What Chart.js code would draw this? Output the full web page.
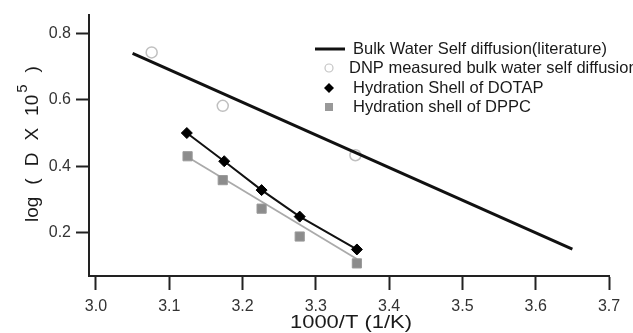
<!DOCTYPE html>
<html>
<head>
<meta charset="utf-8">
<script src="https://cdn.jsdelivr.net/npm/chart.js@4/dist/chart.umd.min.js"></script>
<style>
  body { margin: 0; background: #fff; }
  canvas { display: block; }
</style>
</head>
<body>
<canvas id="myCanvas" width="633" height="333"></canvas>
<script>
// tick labels
const xTicks = [3.0, 3.1, 3.2, 3.3, 3.4, 3.5, 3.6, 3.7];
const yTicks = [0.2, 0.4, 0.6, 0.8];

// series
const bulkX = [3.05, 3.65];
const bulkY = [0.74, 0.15];
const dnpX = [3.076, 3.173, 3.354];
const dnpY = [0.743, 0.582, 0.433];
const dotapX = [3.124, 3.175, 3.226, 3.278, 3.356];
const dotapY = [0.500, 0.415, 0.328, 0.248, 0.149];
const dppcX = [3.125, 3.173, 3.226, 3.278, 3.356];
const dppcY = [0.430, 0.358, 0.272, 0.188, 0.107];
const dppcFitX = [3.125, 3.356];
const dppcFitY = [0.428, 0.120];

const seriesLabels = [
  "Bulk Water Self diffusion(literature)",
  "DNP measured bulk water self diffusion",
  "Hydration Shell of DOTAP",
  "Hydration shell of DPPC"
];
const xTitle = "1000/T (1/K)";
const yTitleParts = ["log", "(", "D", "X", "10"];
const yTitleSup = "5";
const yTitleEnd = ")";

const FONT = '"Liberation Sans", Arial, sans-serif';

function pts(xs, ys) {
  return xs.map((x, i) => ({ x: x, y: ys[i] }));
}

// legend + axis titles drawn by hand
const extrasPlugin = {
  id: 'extras',
  afterDraw(chart) {
    const ctx = chart.ctx;
    const ds = chart.data.datasets;
    ctx.save();

    // legend
    ctx.font = '16.5px ' + FONT;
    ctx.textBaseline = 'middle';
    ctx.textAlign = 'left';
    const rows = [49, 68, 88, 107];
    const mx = 329, tx = 353;

    ctx.strokeStyle = '#111';
    ctx.lineWidth = 3;
    ctx.beginPath();
    ctx.moveTo(315, rows[0]);
    ctx.lineTo(345, rows[0]);
    ctx.stroke();

    ctx.lineWidth = 1.2;
    ctx.strokeStyle = '#c4c4c4';
    ctx.fillStyle = '#fff';
    ctx.beginPath();
    ctx.arc(mx, rows[1], 4, 0, Math.PI * 2);
    ctx.fill();
    ctx.stroke();

    ctx.fillStyle = '#000';
    ctx.beginPath();
    ctx.moveTo(mx, rows[2] - 5);
    ctx.lineTo(mx + 5, rows[2]);
    ctx.lineTo(mx, rows[2] + 5);
    ctx.lineTo(mx - 5, rows[2]);
    ctx.closePath();
    ctx.fill();

    ctx.fillStyle = '#999';
    ctx.fillRect(mx - 4, rows[3] - 4, 8, 8);

    ctx.fillStyle = '#1a1a1a';
    ctx.fillText(ds[0].label, tx, rows[0]);
    ctx.fillText(ds[1].label, tx - 4, rows[1]);
    ctx.fillText(ds[2].label, tx, rows[2]);
    ctx.fillText(ds[3].label, tx, rows[3]);

    // x title, slightly stretched like the original
    const ca = chart.chartArea;
    ctx.save();
    ctx.translate((ca.left + ca.right) / 2 + 2, 323);
    ctx.scale(1.22, 1);
    ctx.font = '18px ' + FONT;
    ctx.textAlign = 'center';
    ctx.fillText(xTitle, 0, 0);
    ctx.restore();

    // y title with superscript
    ctx.save();
    ctx.translate(33, 222);
    ctx.rotate(-Math.PI / 2);
    ctx.font = '19px ' + FONT;
    ctx.textAlign = 'left';
    let pos = 0;
    yTitleParts.forEach(p => {
      ctx.fillText(p, pos, 0);
      pos += ctx.measureText(p).width + 12;
    });
    pos -= 10;
    ctx.font = '15px ' + FONT;
    ctx.fillText(yTitleSup, pos, -10);
    pos += ctx.measureText(yTitleSup).width + 12;
    ctx.font = '19px ' + FONT;
    ctx.fillText(yTitleEnd, pos, 0);
    ctx.restore();

    ctx.restore();
  }
};

const ctx = document.getElementById('myCanvas').getContext('2d');
const chart = new Chart(ctx, {
  type: 'scatter',
  data: {
    datasets: [{
      label: seriesLabels[0],
      data: pts(bulkX, bulkY),
      showLine: true,
      borderColor: '#111',
      borderWidth: 3,
      pointRadius: 0
    },
    {
      label: seriesLabels[1],
      data: pts(dnpX, dnpY),
      pointStyle: 'circle',
      pointRadius: 5.5,
      borderColor: '#c0c0c0',
      backgroundColor: '#fff',
      pointBorderWidth: 1.5
    },
    {
      label: seriesLabels[2],
      data: pts(dotapX, dotapY),
      showLine: true,
      borderColor: '#111',
      borderWidth: 2,
      pointStyle: 'rectRot',
      pointRadius: 5.5,
      pointBackgroundColor: '#000',
      pointBorderColor: '#000',
      pointBorderWidth: 1
    },
    {
      label: seriesLabels[3],
      data: pts(dppcX, dppcY),
      pointStyle: 'rect',
      pointRadius: 6.5,
      pointBackgroundColor: '#8c8c8c',
      pointBorderColor: '#9a9a9a',
      pointBorderWidth: 1
    },
    {
      label: 'DPPC fit',
      data: pts(dppcFitX, dppcFitY),
      showLine: true,
      borderColor: '#aaa',
      borderWidth: 1.8,
      pointRadius: 0
    }]
  },
  options: {
    responsive: false,
    animation: false,
    layout: { padding: { top: 13, right: 24, left: 0, bottom: 0 } },
    scales: {
      x: {
        type: 'linear',
        min: 2.9905,
        max: 3.7,
        afterFit: s => { s.height = 57; },
        afterBuildTicks: s => { s.ticks = xTicks.map(v => ({ value: v })); },
        border: { display: true, color: '#222', width: 2 },
        grid: { drawOnChartArea: false, drawTicks: true, tickLength: 14, tickWidth: 2, tickColor: '#222' },
        ticks: {
          padding: 7,
          color: '#333',
          font: { family: FONT, size: 16 },
          callback: v => v.toFixed(1)
        }
      },
      y: {
        min: 0.069,
        max: 0.857,
        afterFit: s => { s.width = 89; },
        afterBuildTicks: s => { s.ticks = yTicks.map(v => ({ value: v })); },
        border: { display: true, color: '#222', width: 2 },
        grid: { drawOnChartArea: false, drawTicks: true, tickLength: 13, tickWidth: 2, tickColor: '#222' },
        ticks: {
          padding: 5,
          color: '#333',
          font: { family: FONT, size: 16 },
          callback: v => v.toFixed(1)
        }
      }
    },
    plugins: {
      legend: { display: false },
      tooltip: { enabled: false }
    }
  },
  plugins: [extrasPlugin]
});
</script>
</body>
</html>
